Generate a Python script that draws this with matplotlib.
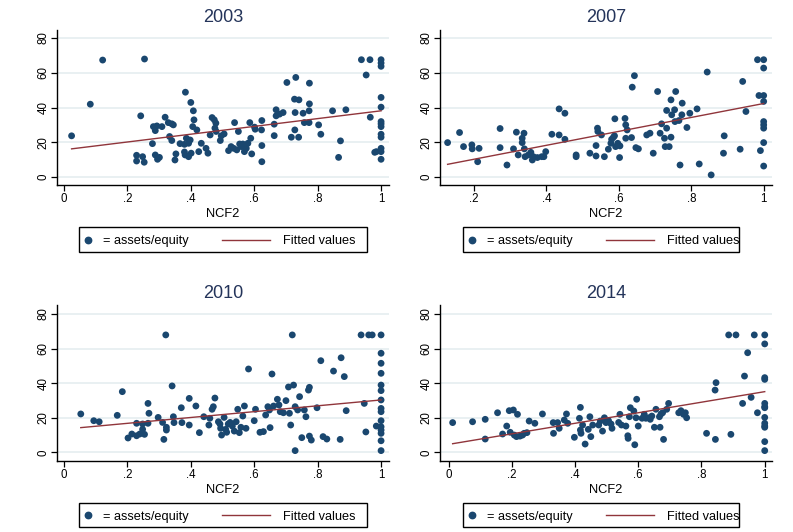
import matplotlib
matplotlib.use("Agg")
import matplotlib.pyplot as plt
from matplotlib.lines import Line2D
from matplotlib.patches import Rectangle
import numpy as np

plt.rcParams['font.family'] = ['Liberation Sans', 'DejaVu Sans']

# --- Données : NCF2 et ratio assets/equity par année ---
annees = ["2003", "2007", "2010", "2014"]

ncf2_2003 = [0.024, 0.083, 0.122, 0.254, 0.242, 0.229, 0.229, 0.248, 0.253, 0.279,
             0.282, 0.288, 0.293, 0.288, 0.295, 0.301, 0.309, 0.319, 0.329, 0.340,
             0.345, 0.333, 0.340, 0.353, 0.350, 0.366, 0.380, 0.383, 0.380, 0.386,
             0.382, 0.393, 0.393, 0.398, 0.400, 0.408, 0.410, 0.406, 0.401, 0.419,
             0.425, 0.433, 0.448, 0.454, 0.461, 0.467, 0.474, 0.479, 0.476, 0.480,
             0.493, 0.496, 0.505, 0.519, 0.527, 0.535, 0.538, 0.545, 0.550, 0.554,
             0.559, 0.564, 0.569, 0.575, 0.580, 0.586, 0.589, 0.592, 0.601, 0.603,
             0.624, 0.623, 0.624, 0.624, 0.663, 0.663, 0.669, 0.669, 0.680, 0.691,
             0.703, 0.717, 0.727, 0.731, 0.729, 0.728, 0.741, 0.740, 0.754, 0.758,
             0.773, 0.774, 0.774, 0.773, 0.803, 0.810, 0.847, 0.866, 0.872, 0.889,
             0.938, 0.953, 0.965, 0.966, 0.980, 1, 1, 1, 1, 1,
             1, 1, 1, 1, 1, 1, 1, 1, 0.985]
ae_2003 = [23.7, 41.9, 67.3, 67.9, 35.2, 12.5, 9.2, 11.7, 8.5, 19.2,
           29.0, 26.7, 29.4, 12.7, 10.2, 11.3, 29.0, 34.4, 31.3, 30.6,
           30.0, 23.3, 21.0, 13.3, 9.8, 19.2, 18.8, 48.8, 14.4, 22.3,
           12.7, 11.7, 19.4, 21.3, 42.9, 38.1, 32.9, 29.0, 13.7, 27.1,
           14.6, 19.4, 16.5, 13.7, 24.2, 34.2, 32.9, 31.0, 28.1, 26.2,
           21.0, 23.7, 24.8, 15.2, 17.5, 16.5, 31.3, 15.6, 26.2, 19.0,
           17.5, 19.0, 14.6, 16.5, 19.4, 31.3, 22.3, 13.3, 28.7, 27.5,
           32.5, 27.1, 18.1, 8.8, 30.4, 23.8, 38.7, 35.2, 36.2, 37.1,
           54.4, 22.9, 44.8, 57.3, 37.1, 27.1, 44.4, 22.9, 36.7, 31.3,
           31.3, 54.0, 42.1, 38.1, 30.0, 24.6, 38.1, 11.3, 20.8, 38.7,
           67.5, 58.7, 67.5, 34.4, 14.2, 67.5, 65.6, 63.7, 45.8, 40.2,
           31.9, 30.6, 29.0, 24.6, 22.9, 16.5, 14.6, 10.2, 14.6]

ncf2_2007 = [0.127, 0.160, 0.171, 0.194, 0.195, 0.214, 0.210, 0.272, 0.272, 0.291,
             0.309, 0.317, 0.322, 0.333, 0.333, 0.338, 0.339, 0.341, 0.350, 0.357,
             0.361, 0.364, 0.375, 0.387, 0.393, 0.398, 0.415, 0.435, 0.435, 0.451,
             0.451, 0.482, 0.482, 0.520, 0.537, 0.537, 0.541, 0.542, 0.552, 0.560,
             0.571, 0.578, 0.580, 0.585, 0.588, 0.589, 0.591, 0.597, 0.603, 0.602,
             0.617, 0.619, 0.619, 0.623, 0.635, 0.637, 0.643, 0.647, 0.654, 0.677,
             0.686, 0.695, 0.707, 0.714, 0.718, 0.726, 0.728, 0.732, 0.732, 0.739,
             0.744, 0.744, 0.746, 0.754, 0.755, 0.757, 0.766, 0.769, 0.774, 0.775,
             0.788, 0.796, 0.816, 0.822, 0.844, 0.855, 0.891, 0.889, 0.935, 0.942,
             0.951, 0.983, 0.987, 0.991, 1, 1, 1, 1, 1, 1,
             1, 1, 1]
ae_2007 = [19.8, 25.6, 17.5, 18.5, 16.2, 16.5, 8.8, 27.9, 16.9, 6.9,
           16.2, 25.8, 12.7, 22.3, 19.8, 25.2, 16.2, 11.7, 12.7, 14.2,
           9.8, 11.7, 11.2, 11.7, 11.7, 14.6, 24.6, 39.2, 24.2, 36.7,
           21.7, 12.7, 11.7, 13.7, 18.1, 12.1, 28.1, 26.2, 24.2, 11.7,
           16.0, 19.4, 21.7, 22.9, 23.7, 33.5, 17.5, 19.4, 17.9, 11.2,
           33.7, 30.0, 22.3, 27.1, 22.7, 51.7, 58.3, 16.9, 16.2, 24.2,
           25.2, 13.7, 49.2, 25.2, 30.6, 22.3, 17.5, 28.1, 38.3, 17.5,
           22.9, 44.4, 35.8, 38.7, 31.9, 49.2, 32.5, 6.9, 35.8, 42.5,
           28.5, 36.7, 39.2, 7.5, 60.4, 1.2, 23.7, 13.7, 16.0, 55.0,
           37.7, 67.5, 46.9, 15.2, 67.5, 62.7, 46.9, 43.5, 31.9, 30.0,
           28.1, 19.8, 6.3]

ncf2_2010 = [0.053, 0.094, 0.111, 0.168, 0.184, 0.202, 0.214, 0.229, 0.229, 0.239,
             0.248, 0.248, 0.254, 0.265, 0.268, 0.265, 0.297, 0.311, 0.315, 0.321,
             0.323, 0.323, 0.341, 0.345, 0.347, 0.370, 0.372, 0.395, 0.395, 0.416,
             0.427, 0.441, 0.457, 0.460, 0.467, 0.471, 0.476, 0.487, 0.492, 0.494,
             0.497, 0.505, 0.510, 0.513, 0.518, 0.524, 0.531, 0.537, 0.543, 0.548,
             0.553, 0.558, 0.564, 0.569, 0.574, 0.582, 0.600, 0.604, 0.618, 0.629,
             0.636, 0.643, 0.650, 0.648, 0.656, 0.661, 0.673, 0.678, 0.682, 0.692,
             0.700, 0.708, 0.711, 0.715, 0.720, 0.724, 0.729, 0.729, 0.737, 0.743,
             0.750, 0.758, 0.763, 0.771, 0.774, 0.774, 0.780, 0.798, 0.810, 0.817,
             0.829, 0.850, 0.874, 0.871, 0.884, 0.890, 0.937, 0.947, 0.952, 0.961,
             0.972, 1, 1, 1, 1, 1, 1, 1, 1, 1,
             1, 1, 1, 1, 1, 1, 0.985]
ae_2010 = [22.2, 18.3, 17.7, 21.4, 35.1, 8.3, 10.6, 16.8, 9.6, 10.6,
           16.4, 13.3, 10.4, 28.3, 22.6, 16.8, 20.2, 17.3, 7.5, 67.9,
           14.5, 12.9, 38.4, 20.6, 17.2, 25.8, 17.2, 31.2, 15.8, 26.8,
           11.4, 20.6, 15.8, 19.7, 24.9, 26.4, 31.4, 17.7, 16.4, 13.9,
           10.0, 20.2, 13.3, 11.6, 16.4, 17.3, 15.2, 12.3, 17.7, 24.9,
           11.4, 14.5, 21.0, 26.8, 13.9, 48.2, 18.3, 24.9, 11.6, 12.0,
           21.6, 26.4, 14.3, 24.5, 45.3, 26.8, 30.7, 27.4, 23.5, 22.9,
           29.9, 37.8, 22.6, 15.8, 67.9, 38.9, 26.4, 1.0, 24.5, 32.2,
           8.5, 24.5, 20.6, 36.0, 37.6, 9.4, 7.1, 25.8, 53.0, 9.1,
           7.7, 47.0, 54.7, 7.5, 43.8, 24.1, 67.9, 28.3, 11.8, 67.9,
           67.9, 67.9, 57.3, 51.5, 45.7, 38.9, 35.7, 30.3, 25.4, 23.5,
           18.3, 14.8, 12.9, 11.0, 6.7, 1.0, 15.2]

ncf2_2014 = [0.013, 0.076, 0.116, 0.116, 0.155, 0.171, 0.184, 0.192, 0.195, 0.205,
             0.208, 0.218, 0.215, 0.226, 0.234, 0.239, 0.248, 0.255, 0.273, 0.297,
             0.331, 0.332, 0.345, 0.350, 0.366, 0.373, 0.377, 0.398, 0.414, 0.417,
             0.417, 0.419, 0.424, 0.432, 0.442, 0.447, 0.450, 0.456, 0.475, 0.480,
             0.487, 0.493, 0.498, 0.506, 0.514, 0.517, 0.538, 0.542, 0.547, 0.561,
             0.567, 0.568, 0.572, 0.575, 0.586, 0.589, 0.593, 0.595, 0.600, 0.612,
             0.619, 0.624, 0.633, 0.638, 0.643, 0.651, 0.656, 0.667, 0.669, 0.672,
             0.677, 0.680, 0.690, 0.696, 0.728, 0.735, 0.743, 0.749, 0.753, 0.816,
             0.843, 0.846, 0.844, 0.886, 0.893, 0.909, 0.930, 0.936, 0.946, 0.957,
             0.967, 0.977, 1, 1, 1, 1, 1, 1, 1, 1,
             1, 1, 1, 1, 1]
ae_2014 = [17.2, 17.7, 19.1, 7.7, 22.9, 10.6, 15.2, 24.1, 11.6, 24.5,
           10.0, 22.0, 9.1, 9.4, 10.0, 11.0, 11.4, 18.1, 16.8, 22.2,
           17.2, 11.0, 17.2, 13.9, 18.7, 22.2, 16.8, 8.7, 19.7, 26.0,
           12.9, 11.0, 15.8, 4.8, 13.3, 20.6, 9.1, 15.8, 15.8, 18.1,
           12.3, 20.0, 17.2, 18.3, 16.4, 13.9, 17.3, 22.0, 15.8, 15.2,
           9.6, 8.1, 20.6, 25.8, 23.9, 4.4, 20.0, 30.7, 15.2, 19.7,
           22.0, 19.7, 20.0, 19.1, 21.0, 14.5, 24.9, 20.6, 14.5, 22.2,
           22.9, 7.5, 24.9, 28.3, 22.9, 24.1, 22.0, 22.9, 20.0, 11.0,
           36.0, 40.3, 7.5, 67.9, 10.4, 67.9, 28.3, 44.1, 57.6, 31.8,
           67.9, 22.9, 67.9, 62.7, 43.2, 42.2, 28.3, 26.4, 25.8, 20.2,
           16.8, 15.2, 14.5, 6.2, 1.0]

ncf2 = [ncf2_2003, ncf2_2007, ncf2_2010, ncf2_2014]
ratios = [ae_2003, ae_2007, ae_2010, ae_2014]

# Droites ajustées (lfit) : ordonnée à l'origine et pente par année
ordonnees = [15.66, 2.21, 13.4, 4.6]
pentes = [22.44, 40.09, 16.9, 30.5]

y_ticks = [0, 20, 40, 60, 80]
x_ticks = [[0, .2, .4, .6, .8, 1], [.2, .4, .6, .8, 1],
           [0, .2, .4, .6, .8, 1], [0, .2, .4, .6, .8, 1]]

# --- Style (couleurs Stata s2color) ---
NAVY = "#1a476f"
MAROON = "#90353b"
GRID = "#e5edf0"
TITRE = "#24345a"

W, H = 793, 532


def fx(px):
    return px / W


def fy(py):
    return 1 - py / H


# Emplacement des panneaux en pixels : gauche, droite, haut, bas, xlim, ylim
panneaux = [
    (57, 389, 30, 185, (-0.022, 1.025), (-4.6, 84.6)),
    (440, 772, 30, 185, (0.106, 1.023), (-4.6, 84.6)),
    (57, 389, 305, 461, (-0.022, 1.025), (-5.0, 85.2)),
    (440, 772, 305, 461, (-0.027, 1.023), (-5.0, 85.2)),
]
legendes = [(79, 367, 227, 252), (463, 739, 227, 252),
            (79, 367, 503, 527), (463, 739, 503, 527)]


def dessiner_legende(fig, x0, x1, y0, y1):
    milieu = (y0 + y1) / 2
    ym = fy(milieu)
    ligne_base = fy(milieu + 4.6)
    fig.patches.append(Rectangle((fx(x0), fy(y1)), fx(x1) - fx(x0), fy(y0) - fy(y1),
                                 transform=fig.transFigure, facecolor="white",
                                 edgecolor="black", lw=1.0))
    fig.lines.append(Line2D([fx(x0 + 9)], [ym], marker="o", ms=4.6, color=NAVY,
                            transform=fig.transFigure))
    fig.text(fx(x0 + 24), ligne_base, "= assets/equity", ha="left", va="baseline",
             fontsize=9.2)
    fig.lines.append(Line2D([fx(x0 + 143), fx(x0 + 191)], [ym, ym], color=MAROON,
                            lw=1.0, transform=fig.transFigure))
    fig.text(fx(x0 + 204), ligne_base, "Fitted values", ha="left", va="baseline",
             fontsize=9.2)


fig = plt.figure(figsize=(7.93, 5.32), dpi=100)
fig.patch.set_facecolor("white")

for i, annee in enumerate(annees):
    gauche, droite, haut, bas, xlim, ylim = panneaux[i]
    ax = fig.add_axes([fx(gauche), fy(bas), fx(droite) - fx(gauche), fy(haut) - fy(bas)])
    x = np.array(ncf2[i])
    y = np.array(ratios[i])

    ax.scatter(x, y, s=24, color=NAVY, edgecolors="none", zorder=3)

    # Valeurs ajustées, tracées sur l'étendue des données
    xs = np.array([x.min(), x.max()])
    ax.plot(xs, ordonnees[i] + pentes[i] * xs, color=MAROON, lw=1.0, zorder=4)

    ax.set_xlim(*xlim)
    ax.set_ylim(*ylim)
    ax.set_yticks(y_ticks)
    ax.set_xticks(x_ticks[i])
    ax.set_xticklabels(["0" if t == 0 else "1" if t == 1 else f"{t:.1f}".lstrip("0")
                        for t in x_ticks[i]])
    ax.grid(True, axis="y", color=GRID, lw=1.2)
    ax.set_axisbelow(True)
    for s in ["top", "right"]:
        ax.spines[s].set_visible(False)
    for s in ["left", "bottom"]:
        ax.spines[s].set_linewidth(1.0)
    ax.tick_params(direction="out", length=4, width=0.9, labelsize=8.3, pad=2)
    ax.tick_params(axis="y", labelrotation=90, pad=1.5)
    for lab in ax.get_yticklabels():
        lab.set_va("center")
    ax.set_xlabel("NCF2", fontsize=9.3, labelpad=2)

    # Titre de l'année
    fig.text(fx((gauche + droite) / 2), fy(haut - 12), annee, ha="center", va="center",
             fontsize=13, color=TITRE)

    dessiner_legende(fig, *legendes[i])

fig.savefig("out.png", dpi=100, facecolor="white")
